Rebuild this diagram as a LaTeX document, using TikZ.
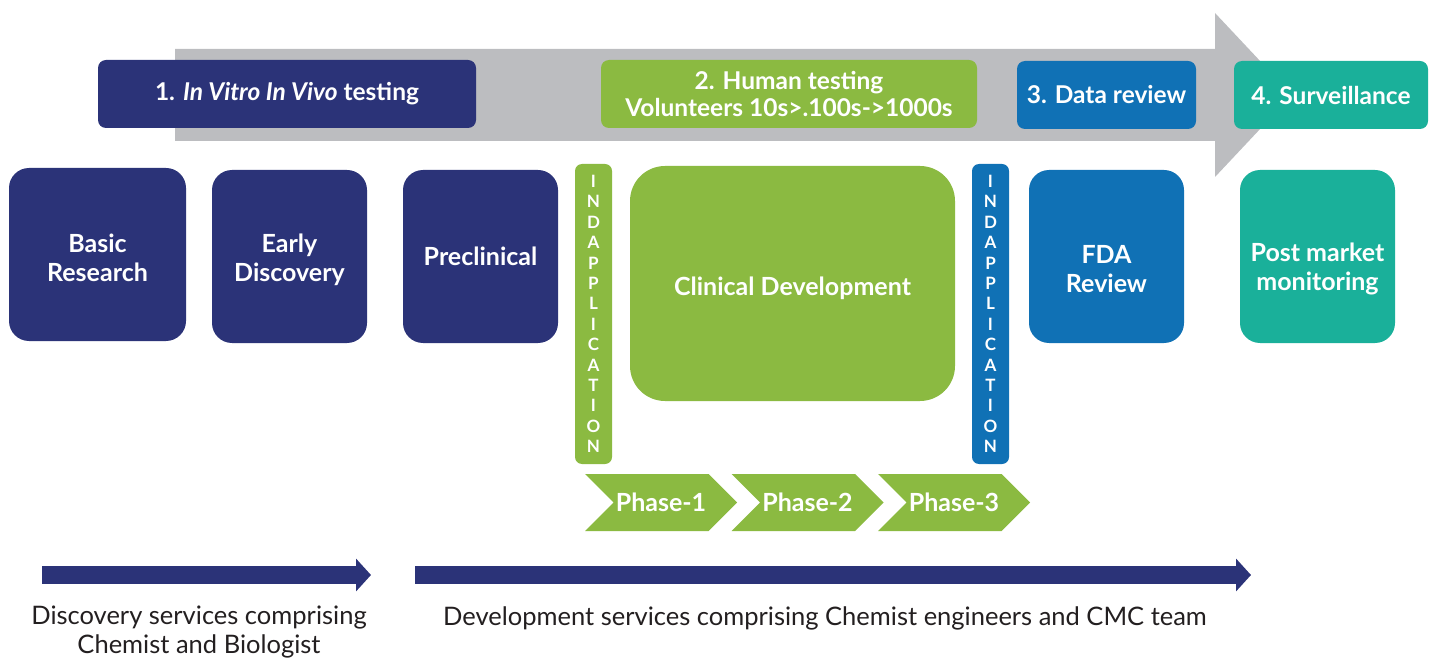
\documentclass[tikz,border=0pt]{standalone}
\usepackage{fontspec}
\setmainfont{Lato}
\usetikzlibrary{arrows.meta,shapes.symbols}
\definecolor{navy}{HTML}{2B3378}
\definecolor{leaf}{HTML}{8BBA41}
\definecolor{sea}{HTML}{1071B5}
\definecolor{teal}{HTML}{1AB09A}
\definecolor{pale}{HTML}{BCBDC0}
\definecolor{ink}{HTML}{231F20}
\tikzset{
    stage/.style={shape=rectangle, rounded corners=8pt, text=white, align=center,
        font=\fontsize{24.5}{27.5}\selectfont\bfseries, minimum height=68pt},
    block/.style={shape=rectangle, rounded corners=20pt, minimum width=155pt, minimum height=173pt},
    blocktext/.style={text=white, align=center, font=\fontsize{25}{29}\selectfont\bfseries},
    indbar/.style={shape=rectangle, rounded corners=7pt, text=white, align=center,
        font=\fontsize{17}{20.4}\selectfont\bfseries, minimum width=37pt, minimum height=300pt, inner sep=0pt},
    phasebox/.style={shape=signal, signal to=east, signal from=west, fill=leaf, text=white,
        font=\fontsize{25}{28}\selectfont\bfseries, minimum width=152pt, minimum height=57pt, inner sep=0pt},
    bararrow/.style={draw=navy, line width=18pt, -{Triangle[length=15pt,width=32pt]}},
    caption/.style={text=ink, align=center, font=\fontsize{25.5}{29}\selectfont}
}
\begin{document}
\begin{tikzpicture}[x=1pt,y=-1pt]
    \useasboundingbox (0,0) rectangle (1435,660);
    % big grey arrow behind the stages
    \fill[pale] (175,49) -- (1215,49) -- (1215,13) -- (1292,95) -- (1215,177) -- (1215,141) -- (175,141) -- cycle;

    \node[stage, fill=navy, minimum width=378pt] (vitro) at (287,94) {1. \textit{In Vitro In Vivo} testing};
    \node[stage, fill=leaf, minimum width=376pt] (human) at (789,94) {2. Human testing\\Volunteers 10s>.100s->1000s};
    \node[stage, fill=sea, minimum width=179pt] (data) at (1106.5,95) {3. Data review};
    \node[stage, fill=teal, minimum width=194pt] (surv) at (1331,95) {4. Surveillance};

    \node[block, fill=navy, minimum width=177pt] (basic) at (97.5,254.5) {};
    \node[block, fill=navy] (early) at (289.5,256.5) {};
    \node[block, fill=navy] (precl) at (480.5,256.5) {};
    \node[block, fill=leaf, rounded corners=35pt, minimum width=325pt, minimum height=235pt] (clin) at (792.5,283.5) {};
    \node[block, fill=sea] (fda) at (1106.5,256.5) {};
    \node[block, fill=teal] (post) at (1317.5,256.5) {};

    \node[blocktext] (basictext) at ([yshift=-3pt]basic.center) {Basic\\Research};
    \node[blocktext] (earlytext) at ([yshift=-3pt]early.center) {Early\\Discovery};
    \node[blocktext] (precltext) at (precl.center) {Preclinical};
    \node[blocktext] (clintext) at ([yshift=-4.5pt]clin.center) {Clinical Development};
    \node[blocktext] (fdatext) at ([yshift=-12.5pt]fda.center) {FDA\\Review};
    \node[blocktext] (posttext) at ([yshift=-12pt]post.center) {Post market\\monitoring};

    \node[indbar, fill=leaf] (inda) at (593.5,314) {I\\N\\D\\A\\P\\P\\L\\I\\C\\A\\T\\I\\O\\N};
    \node[indbar, fill=sea] (indb) at (990.5,314) {I\\N\\D\\A\\P\\P\\L\\I\\C\\A\\T\\I\\O\\N};

    \foreach \x/\n in {661/1, 807.5/2, 954/3}
        \node[phasebox] (phase\n) at (\x,502.5) {Phase-\n};

    \coordinate (disca) at (42,575);
    \coordinate (discb) at (371,575);
    \coordinate (deva) at (415,575);
    \coordinate (devb) at (1251,575);
    \draw[bararrow] (disca) -- (discb);
    \draw[bararrow] (deva) -- (devb);

    \node[caption] (disctext) at (199,632) {Discovery services comprising\\Chemist and Biologist};
    \node[caption] (devtext) at (825,618) {Development services comprising Chemist engineers and CMC team};
\end{tikzpicture}
\end{document}
